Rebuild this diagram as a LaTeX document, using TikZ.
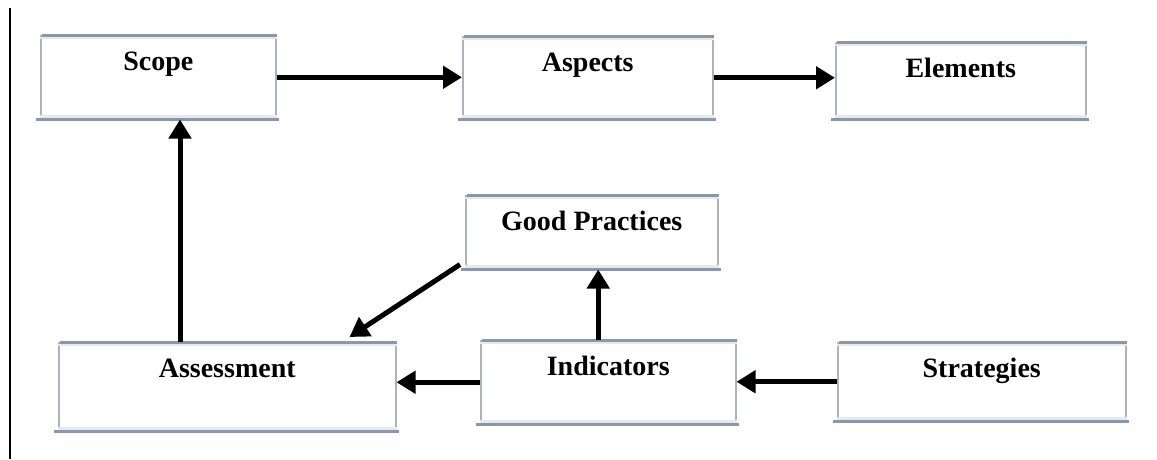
\documentclass[tikz,border=0pt]{standalone}
\usepackage{fontspec}
\setmainfont{Liberation Serif}
\usetikzlibrary{arrows.meta}
\definecolor{boxside}{RGB}{172,178,190}
\definecolor{boxrule}{RGB}{140,150,166}
\definecolor{boxband}{RGB}{226,233,243}

\begin{document}
\begin{tikzpicture}[x=1pt,y=-1pt,
  flow/.style={-{Triangle[length=19pt,width=22pt]},line width=5pt},
  box/.style={draw=boxside,line width=1.5pt,anchor=north west,inner sep=0pt,
    text height=35pt,text depth=#1,font=\bfseries\fontsize{28}{31}\selectfont},
  box/.default=48pt,
  rim/.style={draw=boxrule,line width=3pt},
  band/.style={draw=boxband,line width=2.5pt}]
  \useasboundingbox (0,0) rectangle (1157,459);
  \draw[line width=2pt] (10,8) -- (10,459);
  % --- top row ---
  \node[box=48pt,minimum width=235pt] (scope) at (40,35) {Scope};
  \node[box=47pt,minimum width=250pt] (aspects) at (462,36) {Aspects};
  \node[box=41pt,minimum width=250pt] (elements) at (835,42) {Elements};
  % --- middle ---
  \node[box=38pt,minimum width=252pt] (good) at (465,195) {Good Practices};
  % --- bottom row ---
  \node[box=53pt,minimum width=337pt] (assess) at (58,342) {Assessment};
  \node[box=48pt,minimum width=255pt] (ind) at (480,340) {Indicators};
  \node[box=43pt,minimum width=288pt] (strat) at (837,342) {Strategies};
  % --- shaded top and bottom rims ---
  \foreach \n in {scope,aspects,elements,good,assess,ind,strat} {
    \draw[band] ([yshift=-3pt]\n.north west) -- ([yshift=-3pt]\n.north east);
    \draw[band] ([yshift=3pt]\n.south west) -- ([yshift=3pt]\n.south east);
    \draw[rim] ([xshift=2pt]\n.north west) -- (\n.north east);
    \draw[rim] ([xshift=-4pt]\n.south west) -- ([xshift=2pt]\n.south east);
  }
  % --- arrows ---
  \draw[flow] (scope.east) -- (scope.east -| aspects.west);
  \draw[flow] (aspects.east) -- (aspects.east -| elements.west);
  \draw[flow] ([xshift=122pt]assess.north west) -- ([xshift=122pt]assess.north west |- scope.south);
  \draw[flow] ([xshift=-5pt,yshift=5pt]good.south west) -- ([xshift=-47pt,yshift=5pt]assess.north east);
  \draw[flow] ([xshift=-10pt]ind.north) -- ([xshift=-10pt]ind.north |- good.south);
  \draw[flow] (ind.west) -- (ind.west -| assess.east);
  \draw[flow] (strat.west) -- (strat.west -| ind.east);
\end{tikzpicture}
\end{document}
